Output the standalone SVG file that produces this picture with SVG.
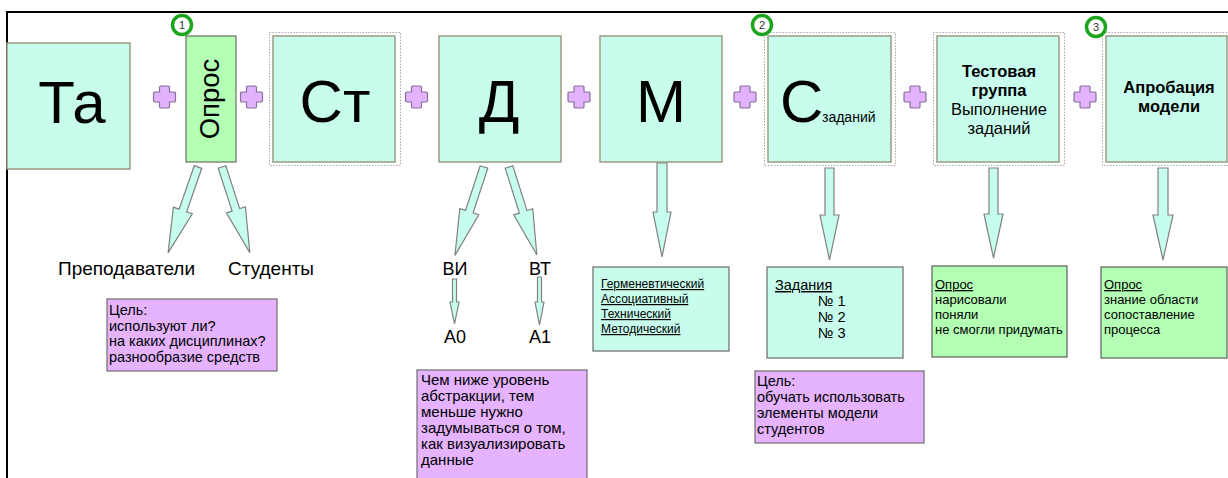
<svg xmlns="http://www.w3.org/2000/svg" width="1228" height="478" viewBox="0 0 1228 478">
<style>
text{font-family:"Liberation Sans",Arial,sans-serif;fill:#000}
.cy{fill:#c8fdee;stroke:#9a9a82;stroke-width:1.5}
.gr{fill:#b3ffb3;stroke:#6e6e60;stroke-width:1.2}
.pu{fill:#e5b3ff;stroke:#6e6e6e;stroke-width:1.2}
.cyb{fill:#c8fdee;stroke:#6a6a6a;stroke-width:1.2}
.grb{fill:#b3ffb3;stroke:#5e5e5e;stroke-width:1.2}
.dot{fill:none;stroke:#a8a8a8;stroke-width:1;stroke-dasharray:1.5 1.5}
.plus{fill:#e3b2ff;stroke:#86709a;stroke-width:1.2}
.arr{fill:#c6fdee;stroke:#808080;stroke-width:1.2}
.big{font-size:60px;text-anchor:middle}
.lbl{font-size:19px}
.lbl2{font-size:18px;text-anchor:middle}
.sm{font-size:14.5px}
.nt{font-size:15px}
.xs{font-size:13px}
.xs2{font-size:12px}
.u{text-decoration:underline}
.num{fill:#fff;stroke:#1ea51e;stroke-width:3.5}
.numt{font-size:11px;text-anchor:middle;fill:#333}
</style>
<defs>
<path id="plus" class="plus" d="M-4 -11 L4 -11 L5 -10 L5 -5 L10 -5 L11 -4 L11 4 L10 5 L5 5 L5 10 L4 11 L-4 11 L-5 10 L-5 5 L-10 5 L-11 4 L-11 -4 L-10 -5 L-5 -5 L-5 -10 Z"/>
</defs>
<path d="M7 478 L7 12 L1228 12" fill="none" stroke="#000" stroke-width="2"/>

<g id="connectors">
<use href="#plus" x="164.5" y="97"/>
<use href="#plus" x="251.5" y="97"/>
<use href="#plus" x="416.5" y="97"/>
<use href="#plus" x="579" y="97"/>
<use href="#plus" x="745" y="97"/>
<use href="#plus" x="915" y="97"/>
<use href="#plus" x="1085" y="97"/>
<path class="arr" transform="translate(198,167) rotate(19.2)" d="M-4 0 L4 0 L4 46 L10 46 L0 91 L-10 46 L-4 46 Z"/>
<path class="arr" transform="translate(222,167) rotate(-18)" d="M-4 0 L4 0 L4 45 L10 45 L0 90 L-10 45 L-4 45 Z"/>
<path class="arr" transform="translate(484,167) rotate(18.2)" d="M-4 0 L4 0 L4 47 L10 47 L0 93 L-10 47 L-4 47 Z"/>
<path class="arr" transform="translate(509,167) rotate(-17.6)" d="M-4 0 L4 0 L4 47 L10 47 L0 92 L-10 47 L-4 47 Z"/>
<path class="arr" d="M657 163 L667 163 L667 212 L671 212 L662 257 L653 212 L657 212 Z"/>
<path class="arr" d="M825 168 L834 168 L834 215 L839 215 L829.5 260 L820 215 L825 215 Z"/>
<path class="arr" d="M989 168 L998 168 L998 214 L1003 214 L993.5 258 L984 214 L989 214 Z"/>
<path class="arr" d="M1158 168 L1168 168 L1168 215 L1173 215 L1163 260 L1153 215 L1158 215 Z"/>
<path class="arr" d="M452.5 279 L456.5 279 L456.5 302 L459 302 L454.5 324 L450 302 L452.5 302 Z"/>
<path class="arr" d="M537.5 277 L541.5 277 L541.5 302 L544 302 L539.5 325 L535 302 L537.5 302 Z"/>
</g>

<g id="node-ta">
<rect class="cy" x="7" y="43" width="123" height="126"/>
<text class="big" x="72" y="123">Та</text>
</g>
<g id="node-opros">
<rect class="gr" x="186" y="36" width="50" height="126"/>
<text transform="translate(219,99) rotate(-90)" font-size="27.5" text-anchor="middle">Опрос</text>
<circle class="num" cx="182" cy="25" r="9.5"/>
<text class="numt" x="182" y="29">1</text>
</g>
<g id="node-st">
<rect class="dot" x="269.5" y="32.5" width="131" height="133"/>
<rect class="cy" x="273" y="36" width="122" height="126"/>
<text class="big" x="335" y="122">Ст</text>
</g>
<g id="node-d">
<rect class="cy" x="439" y="36" width="122" height="126"/>
<text class="big" x="499" y="122">Д</text>
</g>
<g id="node-m">
<rect class="cy" x="600" y="36" width="122" height="126"/>
<text class="big" x="661" y="122">М</text>
</g>
<g id="node-s">
<rect class="dot" x="764.5" y="32.5" width="131" height="133"/>
<rect class="cy" x="768" y="36" width="123" height="126"/>
<text font-size="60" x="780" y="122">С</text>
<text font-size="14" x="822" y="122">заданий</text>
<circle class="num" cx="762" cy="25" r="9.5"/>
<text class="numt" x="762" y="29">2</text>
</g>
<g id="node-test">
<rect class="dot" x="933.5" y="32.5" width="131" height="133"/>
<rect class="cy" x="937" y="36" width="122" height="126"/>
<text font-size="16.5" text-anchor="middle" x="999" y="77" font-weight="bold">Тестовая</text>
<text font-size="16.5" text-anchor="middle" x="999" y="96" font-weight="bold">группа</text>
<text font-size="16.5" text-anchor="middle" x="999" y="115">Выполнение</text>
<text font-size="16.5" text-anchor="middle" x="999" y="134">заданий</text>
</g>
<g id="node-aprob">
<rect class="dot" x="1102.5" y="32.5" width="130" height="133"/>
<rect class="cy" x="1106" y="36" width="121" height="126"/>
<text font-size="16.5" text-anchor="middle" x="1169" y="93" font-weight="bold">Апробация</text>
<text font-size="16.5" text-anchor="middle" x="1169" y="112" font-weight="bold">модели</text>
<circle class="num" cx="1096" cy="27" r="9.5"/>
<text class="numt" x="1096" y="31">3</text>
</g>

<g id="node-prep"><text class="lbl" x="58" y="275">Преподаватели</text></g>
<g id="node-stud"><text class="lbl" x="228" y="275">Студенты</text></g>
<g id="node-goal1">
<rect class="pu" x="107" y="299" width="170" height="72"/>
<text class="sm" x="109" y="315">Цель:</text>
<text class="sm" x="109" y="331">используют ли?</text>
<text class="sm" x="109" y="346">на каких дисциплинах?</text>
<text class="sm" x="109" y="362">разнообразие средств</text>
</g>
<g id="node-vi"><text class="lbl2" x="455" y="275">ВИ</text></g>
<g id="node-vt"><text class="lbl2" x="540" y="275">ВТ</text></g>
<g id="node-a0"><text class="lbl2" x="455" y="343">А0</text></g>
<g id="node-a1"><text class="lbl2" x="540" y="343">А1</text></g>
<g id="node-note">
<rect class="pu" x="417" y="370" width="170" height="112"/>
<text class="nt" x="421" y="385">Чем ниже уровень</text>
<text class="nt" x="421" y="401">абстракции, тем</text>
<text class="nt" x="421" y="417">меньше нужно</text>
<text class="nt" x="421" y="433">задумываться о том,</text>
<text class="nt" x="421" y="449">как визуализировать</text>
<text class="nt" x="421" y="465">данные</text>
</g>
<g id="node-types">
<rect class="cyb" x="593" y="267" width="136" height="84"/>
<text class="xs2 u" x="601" y="288">Герменевтический</text>
<text class="xs2 u" x="601" y="303">Ассоциативный</text>
<text class="xs2 u" x="601" y="318">Технический</text>
<text class="xs2 u" x="601" y="333">Методический</text>
</g>
<g id="node-tasks">
<rect class="cyb" x="767" y="267" width="136" height="91"/>
<text class="sm u" x="775" y="290">Задания</text>
<text class="sm" x="818" y="306">№ 1</text>
<text class="sm" x="818" y="322">№ 2</text>
<text class="sm" x="818" y="338">№ 3</text>
</g>
<g id="node-goal2">
<rect class="pu" x="755" y="371" width="169" height="72"/>
<text class="sm" x="757" y="386">Цель:</text>
<text class="sm" x="757" y="402">обучать использовать</text>
<text class="sm" x="757" y="418">элементы модели</text>
<text class="sm" x="757" y="434">студентов</text>
</g>
<g id="node-opros2">
<rect class="grb" x="932" y="266" width="135" height="91"/>
<text class="xs u" x="935" y="289">Опрос</text>
<text class="xs" x="935" y="304">нарисовали</text>
<text class="xs" x="935" y="319">поняли</text>
<text class="xs" x="935" y="334">не смогли придумать</text>
</g>
<g id="node-opros3">
<rect class="grb" x="1101" y="267" width="126" height="91"/>
<text class="xs u" x="1104" y="289">Опрос</text>
<text class="xs" x="1104" y="304">знание области</text>
<text class="xs" x="1104" y="319">сопоставление</text>
<text class="xs" x="1104" y="334">процесса</text>
</g>
</svg>
